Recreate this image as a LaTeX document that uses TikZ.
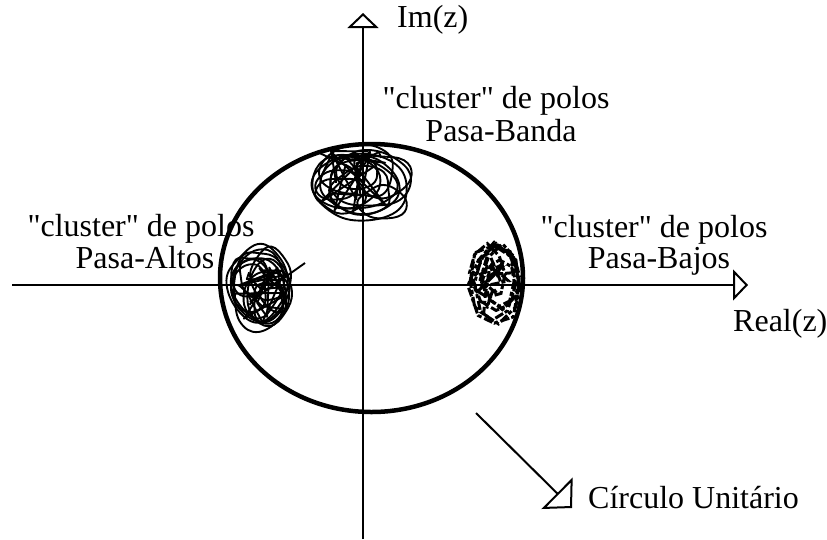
\documentclass[tikz,border=0pt]{standalone}
\usepackage{fontspec}
\setmainfont{Liberation Serif}
\usetikzlibrary{arrows.meta}
\newcommand\sq{{\XeTeXglyph\XeTeXcharglyph"22\relax}}
\newcommand\clusterscrib[6]{% cx cy rx ry nloops nlines
  \foreach \k in {1,...,#5}{
    \pgfmathsetmacro\fs{0.35+0.6*rnd}
    \pgfmathsetmacro\ox{#1+0.9*(1-\fs)*#3*(2*rnd-1)}
    \pgfmathsetmacro\oy{#2+0.9*(1-\fs)*#4*(2*rnd-1)}
    \pgfmathsetmacro\sx{#3*\fs}
    \pgfmathsetmacro\sy{#4*\fs}
    \draw[scrib] plot[smooth cycle, tension=0.7, samples=8, domain=0:315]
      ({\ox+\sx*(0.75+0.3*rnd)*cos(\x)},{\oy+\sy*(0.75+0.3*rnd)*sin(\x)});
  }
  \foreach \k in {1,...,#6}{
    \draw[scrib] plot[samples=5, domain=1:5]
      ({#1+0.75*#3*(2*rnd-1)},{#2+0.75*#4*(2*rnd-1)});
  }
}
\tikzset{
  axis/.style={line width=2pt},
  axarrow/.style={-{Triangle[open,length=15pt,width=31pt,line width=2pt]}},
  scrib/.style={line width=1.9pt, line join=round},
  jagged/.style={line width=3pt, dash pattern=on 9pt off 3pt on 4pt off 2pt},
  lbl/.style={font=\fontsize{32}{32}\selectfont, inner sep=0pt},
}
\begin{document}
\begin{tikzpicture}[x=1pt,y=-1pt]
\useasboundingbox (0,0) rectangle (827,539);
\pgfmathsetseed{11}
% axes
\coordinate (ybot) at (363,539);
\coordinate (ytop) at (363,13);
\coordinate (xleft) at (12,285);
\coordinate (xright) at (748,285);
\draw[axis,axarrow] (ybot) -- (ytop);
\draw[axis,axarrow] (xleft) -- (xright);
% unit circle
\draw[line width=4.5pt] (371.5,278) ellipse [x radius=151.5, y radius=134];
% clusters
\clusterscrib{360}{182}{57}{42}{12}{6}
\clusterscrib{261}{288}{39}{49}{12}{6}
\draw[scrib] (250,302) -- (305,263);
\begin{scope}[jagged]
\foreach \k in {1,...,7}{
  \pgfmathsetmacro\fs{0.45+0.5*rnd}
  \pgfmathsetmacro\ox{495+0.8*(1-\fs)*30*(2*rnd-1)}
  \pgfmathsetmacro\oy{282+0.8*(1-\fs)*47*(2*rnd-1)}
  \draw plot[samples=9, domain=0:360]
    ({\ox+30*\fs*(0.8+0.25*rnd)*cos(\x)},{\oy+47*\fs*(0.8+0.25*rnd)*sin(\x)});
}
\foreach \k in {1,...,4}{
  \draw plot[samples=5, domain=1:5] ({495+20*(2*rnd-1)},{282+32*(2*rnd-1)});
}
\end{scope}
% labels
\node[lbl, anchor=base west] (im) at (397,27) {Im(z)};
\node[lbl, anchor=base west] (re) at (733,331) {Real(z)};
\node[lbl, anchor=base] (bp1) at (496,108) {\sq cluster\sq{} de polos};
\node[lbl, anchor=base] (bp2) at (501,141) {Pasa-Banda};
\node[lbl, anchor=base] (hp1) at (141,236) {\sq cluster\sq{} de polos};
\node[lbl, anchor=base] (hp2) at (145,268) {Pasa-Altos};
\node[lbl, anchor=base] (lp1) at (654,237) {\sq cluster\sq{} de polos};
\node[lbl, anchor=base] (lp2) at (659,268) {Pasa-Bajos};
% unit circle pointer
\coordinate (ptr) at (476,413);
\coordinate (ptrtip) at (572,508);
\node[lbl, anchor=base west] (cu) at (588,508) {Círculo Unitário};
\draw[line width=2pt,-{Triangle[open,length=21pt,width=44pt,line width=2pt]}] (ptr) -- (ptrtip);
\end{tikzpicture}
\end{document}
